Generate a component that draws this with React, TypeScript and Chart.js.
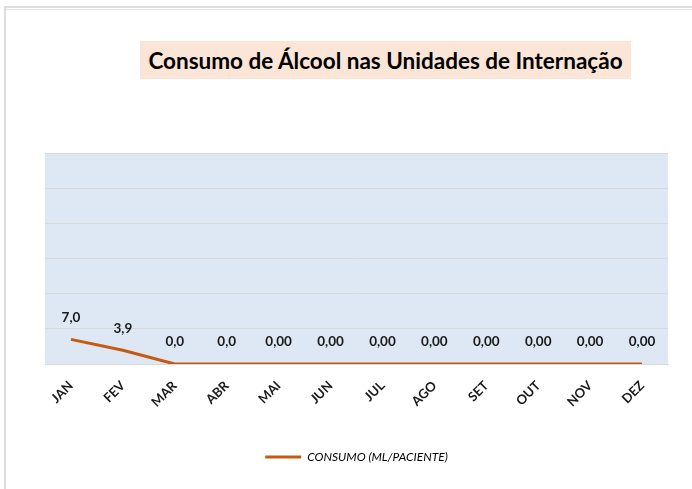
import React, { useEffect, useRef } from "react";
import { Chart, registerables } from "chart.js";

Chart.register(...registerables);

const months = ["JAN", "FEV", "MAR", "ABR", "MAI", "JUN", "JUL", "AGO", "SET", "OUT", "NOV", "DEZ"];
const consumo = [7.0, 3.9, 0, 0, 0, 0, 0, 0, 0, 0, 0, 0];
const consumoLabels = ["7,0", "3,9", "0,0", "0,0", "0,00", "0,00", "0,00", "0,00", "0,00", "0,00", "0,00", "0,00"];
const seriesName = "CONSUMO (ML/PACIENTE)";
const titleText = "Consumo de Álcool nas Unidades de Internação";

const FONT = "Lato, 'Open Sans', sans-serif";

const plotBg = {
  id: "plotBg",
  beforeDraw(chart: any) {
    const { ctx, chartArea } = chart;
    ctx.save();
    ctx.fillStyle = "#dde8f4";
    ctx.fillRect(chartArea.left, chartArea.top, chartArea.right - chartArea.left, chartArea.bottom - chartArea.top);
    ctx.restore();
  },
};

const valueLabels = {
  id: "valueLabels",
  afterDatasetsDraw(chart: any) {
    const { ctx } = chart;
    const meta = chart.getDatasetMeta(0);
    ctx.save();
    ctx.font = `bold 13.5px ${FONT}`;
    ctx.fillStyle = "#1a1a1a";
    ctx.textAlign = "center";
    ctx.textBaseline = "middle";
    meta.data.forEach((pt: any, i: number) => {
      ctx.fillText(consumoLabels[i], pt.x, pt.y - 22);
    });
    ctx.restore();
  },
};

export default function App() {
  const ref = useRef<HTMLCanvasElement>(null);
  useEffect(() => {
    if (!ref.current) return;
    const chart = new Chart(ref.current, {
      type: "line",
      data: {
        labels: months,
        datasets: [
          {
            label: seriesName,
            data: consumo,
            borderColor: "#c55a11",
            backgroundColor: "#c55a11",
            borderWidth: 3,
            pointRadius: 0,
            tension: 0,
          },
        ],
      },
      options: {
        responsive: false,
        animation: false,
        layout: { padding: { left: 45, right: 24, top: 153, bottom: 16 } },
        scales: {
          x: {
            offset: true,
            grid: { display: false },
            border: { color: "#d9d9d9", width: 1 },
            ticks: {
              autoSkip: false,
              minRotation: 45,
              maxRotation: 45,
              padding: 6,
              color: "#1a1a1a",
              font: { family: FONT, size: 13, weight: "bold" },
            },
            afterFit: (scale: any) => {
              scale.height = 77;
            },
          },
          y: {
            min: 0,
            max: 60,
            ticks: { display: false, stepSize: 10 },
            grid: { color: "#d9d9d9", drawTicks: false },
            border: { display: false },
            afterFit: (scale: any) => {
              scale.width = 0;
            },
          },
        },
        plugins: {
          title: { display: false },
          tooltip: { enabled: false },
          legend: {
            position: "bottom",
            labels: {
              boxWidth: 36,
              boxHeight: 3,
              padding: 10,
              color: "#000",
              font: { family: FONT, size: 12, style: "italic" },
              generateLabels: (c: any) => {
                const items = (Chart as any).defaults.plugins.legend.labels.generateLabels(c);
                return items.map((it: any) => ({ ...it, lineWidth: 0 }));
              },
            },
          },
        },
      },
      plugins: [plotBg, valueLabels],
    } as any);
    return () => chart.destroy();
  }, []);

  return (
    <div style={{ position: "fixed", left: 0, top: 0, width: 692, height: 489, background: "#fff", overflow: "hidden" }}>
      <canvas ref={ref} width={692} height={489} style={{ position: "absolute", left: 0, top: 0 }} />
      <div style={{ position: "absolute", left: 4, top: 6, width: 688, height: 0, borderTop: "2px solid #dcdcdc" }} />
      <div style={{ position: "absolute", left: 4, top: 9, width: 688, height: 0, borderTop: "1px solid #e6e6e6" }} />
      <div style={{ position: "absolute", left: 4, top: 6, width: 0, height: 483, borderLeft: "2px solid #dcdcdc" }} />
      <div
        style={{
          position: "absolute",
          left: 140,
          top: 41,
          width: 491,
          height: 38,
          background: "#fbe5d6",
          display: "flex",
          alignItems: "center",
          justifyContent: "center",
          fontFamily: FONT,
          fontWeight: "bold",
          fontSize: 22.5,
          color: "#000",
          whiteSpace: "nowrap",
        }}
      >
        {titleText}
      </div>
    </div>
  );
}
